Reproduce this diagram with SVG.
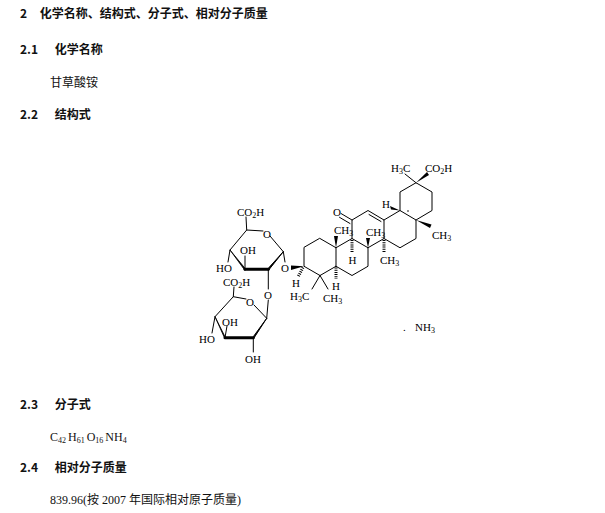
<svg xmlns="http://www.w3.org/2000/svg" width="605" height="513" viewBox="0 0 605 513">
<style>
.h{font-family:"Noto Sans CJK SC",sans-serif;font-size:12px;font-weight:bold;fill:#111}
.b{font-family:"Liberation Serif","Noto Sans CJK SC",serif;font-size:12px;fill:#111}
.c{font-family:"Liberation Serif",serif;font-size:11px;fill:#000}
.s{font-size:8px}
.bd{stroke:#000;stroke-width:1;fill:none;stroke-linecap:round;stroke-linejoin:round}
.th{stroke:#000;stroke-width:3;fill:none;stroke-linecap:round}
.hash{stroke:#000;stroke-width:3;stroke-dasharray:1 1.2;fill:none}
</style>
<rect width="605" height="513" fill="#fff"/>
<text class="h" x="20" y="18">2 <tspan dx="10">化学名称、结构式、分子式、相对分子质量</tspan></text>
<text class="h" x="20" y="54">2.1 <tspan dx="14">化学名称</tspan></text>
<text class="b" x="50" y="87" font-family="Noto Sans CJK SC">甘草酸铵</text>
<text class="h" x="20" y="119">2.2 <tspan dx="14">结构式</tspan></text>
<text class="h" x="20" y="409">2.3 <tspan dx="14">分子式</tspan></text>
<text class="b" x="50" y="441">C<tspan class="s" dy="2">42</tspan><tspan dy="-2" dx="2">H</tspan><tspan class="s" dy="2">61</tspan><tspan dy="-2" dx="2">O</tspan><tspan class="s" dy="2">16</tspan><tspan dy="-2" dx="2">NH</tspan><tspan class="s" dy="2">4</tspan></text>
<text class="h" x="20" y="472">2.4 <tspan dx="14">相对分子质量</tspan></text>
<text class="b" x="50" y="504">839.96(按 2007 年国际相对原子质量)</text>

<g id="aglycone">
<path class="bd" d="M320,238.5 L336,247.75 L336,266.25 L320,275.5 L304,266.25 L304,247.75 Z"/>
<path class="bd" d="M336,247.75 L352,238.5 L368,247.75 L368,266.25 L352,275.5 L336,266.25"/>
<path class="bd" d="M352,238.5 L352,220 L368,210.5 L384,220 L384,238.5 L368,247.75"/>
<path class="bd" d="M369,214.5 L381,221.5"/>
<path class="bd" d="M384,220 L400,210.5 L416,220 L416,238.5 L400,247.75 L384,238.5"/>
<path class="bd" d="M400,210.5 L400,192 L416,182.75 L432,192 L432,210.5 L416,220"/>
<path class="bd" d="M352,220 L341,213.5 M350,223.5 L339.5,217.3"/>
<text class="c" x="333" y="216">O</text>
<path d="M336,247.75 L334,236 L338,236 Z"/>
<text class="c" x="334" y="234">CH<tspan class="s" dy="2">3</tspan></text>
<path d="M368,247.75 L366,238 L370,238 Z"/>
<text class="c" x="366" y="236">CH<tspan class="s" dy="2">3</tspan></text>
<path class="hash" d="M352,240 L352,252"/>
<text class="c" x="348.5" y="264">H</text>
<path class="hash" d="M384,240 L384,253"/>
<text class="c" x="380" y="264">CH<tspan class="s" dy="2">3</tspan></text>
<path class="hash" d="M336,267.5 L336,279"/>
<text class="c" x="332" y="290">H</text>
<path class="bd" d="M320,275.5 L312,289 M320,275.5 L328,289"/>
<text class="c" x="290" y="300">H<tspan class="s" dy="2">3</tspan><tspan dy="-2">C</tspan></text>
<text class="c" x="323" y="302">CH<tspan class="s" dy="2">3</tspan></text>
<path d="M304,266.25 L291,265.5 L291,270 Z"/>
<path class="hash" d="M303,267.5 L298,277"/>
<text class="c" x="292" y="287">H</text>
<path d="M416,220 L430,228 L431.5,224.5 Z"/>
<text class="c" x="432" y="239">CH<tspan class="s" dy="2">3</tspan></text>
<path d="M400,210.5 L390,206 L391,209.5 Z"/>
<text class="c" x="382" y="208">H</text>
<circle cx="408" cy="211" r="0.8"/>
<path class="bd" d="M416,182.75 L405,174"/>
<path d="M416,182.75 L427,172 L429,175 Z"/>
<text class="c" x="391" y="172">H<tspan class="s" dy="2">3</tspan><tspan dy="-2">C</tspan></text>
<text class="c" x="425" y="172">CO<tspan class="s" dy="2">2</tspan><tspan dy="-2">H</tspan></text>
</g>

<g id="sugar1">
<path class="bd" d="M230,250 L246.7,230 L263,231 M270,236 L283.3,251.7"/>
<path d="M283.3,251.7 L268.3,268.3 L268.3,270.5 Z" stroke="#000" stroke-width="1"/>
<path class="th" d="M268.3,269.3 L245,269.3"/>
<path d="M245,268.3 L230,250 L245,270.5 Z" stroke="#000" stroke-width="0.8"/>
<text class="c" x="263" y="238">O</text>
<path class="bd" d="M246.7,230 L246,217"/>
<text class="c" x="237" y="216">CO<tspan class="s" dy="2">2</tspan><tspan dy="-2">H</tspan></text>
<path class="bd" d="M245,268.3 L245,256"/>
<text class="c" x="240" y="254">OH</text>
<path class="bd" d="M230,250 L228,262"/>
<text class="c" x="216" y="272">HO</text>
<path class="bd" d="M283.3,251.7 L285,262"/>
<text class="c" x="281" y="272">O</text>
<path class="bd" d="M268.3,269.3 L268.3,289"/>
<text class="c" x="264" y="299">O</text>
</g>

<g id="sugar2">
<path class="bd" d="M215,316.7 L233.3,296.7 L246,299 M254,305 L266.7,318.3"/>
<path d="M266.7,318.3 L253.3,336.7 L253.3,339 Z" stroke="#000" stroke-width="1"/>
<path class="th" d="M253.3,337.7 L225,337.7"/>
<path d="M225,336.7 L215,316.7 L225,339 Z" stroke="#000" stroke-width="0.8"/>
<text class="c" x="246" y="306">O</text>
<path class="bd" d="M268.3,300 L266.7,318.3"/>
<path class="bd" d="M233.3,296.7 L234,287"/>
<text class="c" x="223" y="286">CO<tspan class="s" dy="2">2</tspan><tspan dy="-2">H</tspan></text>
<path class="bd" d="M225,337.7 L227,326"/>
<text class="c" x="222" y="326">OH</text>
<path class="bd" d="M215,316.7 L212,333"/>
<text class="c" x="199" y="343">HO</text>
<path class="bd" d="M253.3,337.7 L253.3,352"/>
<text class="c" x="245" y="363">OH</text>
</g>
<text class="c" x="403" y="331">.</text>
<text class="c" x="415" y="331">NH<tspan class="s" dy="2">3</tspan></text>
</svg>
